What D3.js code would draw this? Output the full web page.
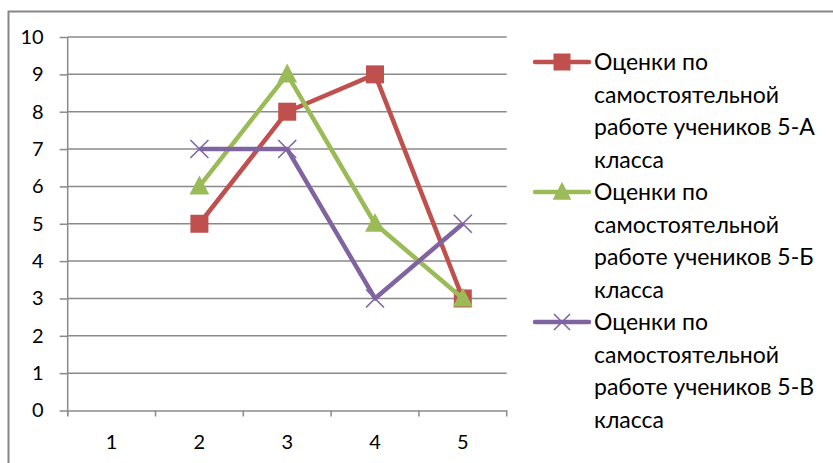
<!DOCTYPE html>
<html><head><meta charset="utf-8">
<script src="https://cdn.jsdelivr.net/npm/d3@7"></script>
<style>body{margin:0;background:#fff}svg{display:block}text{font-family:Lato,"Open Sans",sans-serif}</style>
</head><body>
<script>
const categories = ["1","2","3","4","5"];
const yTicks = [0,1,2,3,4,5,6,7,8,9,10];
const seriesNames = [
  ["Оценки по","самостоятельной","работе учеников 5-А","класса"],
  ["Оценки по","самостоятельной","работе учеников 5-Б","класса"],
  ["Оценки по","самостоятельной","работе учеников 5-В","класса"]
];
const valuesA = [null,5,8,9,3];
const valuesB = [null,6,9,5,3];
const valuesV = [null,7,7,3,5];
const colors = ["#C0504D","#9BBB59","#8064A2"];
const markers = ["square","triangle","x"];

const W=833,H=463;
const svg=d3.select("body").append("svg").attr("width",W).attr("height",H);
svg.append("rect").attr("x",8.5).attr("y",11.5).attr("width",W+20).attr("height",H+20)
  .attr("fill","none").attr("stroke","#868686").attr("stroke-width",2);

const x=d3.scaleBand().domain(categories).range([67.7,506.7]).padding(0);
const y=d3.scaleLinear().domain([0,10]).range([410.5,37]);
const grey="#8a8a8a";

const g=svg.append("g");
g.selectAll(".grid").data(yTicks.filter(d=>d>0)).enter().append("line")
  .attr("x1",x.range()[0]).attr("x2",x.range()[1])
  .attr("y1",d=>y(d)).attr("y2",d=>y(d)).attr("stroke",grey).attr("stroke-width",1.5);

const ya=svg.append("g").attr("transform",`translate(${x.range()[0]},0)`)
  .call(d3.axisLeft(y).tickValues(yTicks).tickSize(8).tickPadding(16).tickFormat(d3.format("d")));
ya.select(".domain").remove();
ya.append("line").attr("x1",0).attr("x2",0).attr("y1",y(10)).attr("y2",y(0)+5).attr("stroke",grey).attr("stroke-width",1.5);
ya.selectAll(".tick line").attr("stroke",grey).attr("stroke-width",1.5);
ya.selectAll(".tick text").attr("fill","#000").style("font-size","20px").style("font-family","Lato,'Open Sans',sans-serif");

const xa=svg.append("g").attr("transform",`translate(0,${y(0)})`)
  .call(d3.axisBottom(x).tickSize(0).tickPadding(24));
xa.select(".domain").attr("stroke",grey).attr("stroke-width",1.5);
xa.selectAll(".tick text").attr("fill","#000").style("font-size","20px").style("font-family","Lato,'Open Sans',sans-serif");
const bounds=[...categories.map(c=>x(c)), x.range()[1]];
xa.selectAll(".xt").data(bounds).enter().append("line")
  .attr("x1",d=>d).attr("x2",d=>d).attr("y1",0).attr("y2",6).attr("stroke",grey).attr("stroke-width",1.5);

const allSeries=[valuesA,valuesB,valuesV];
const cx=i=>x(categories[i])+x.bandwidth()/2;
const line=d3.line().defined(d=>d.v!=null).x(d=>cx(d.i)).y(d=>y(d.v));

function drawMarker(sel,type,color,px,py,s){
  if(type==="square"){
    sel.append("rect").attr("x",px-s/2).attr("y",py-s/2).attr("width",s).attr("height",s).attr("fill",color);
  } else if(type==="triangle"){
    const h=s*1.0;
    sel.append("path").attr("d",`M${px},${py-h*0.6}L${px+s*0.55},${py+h*0.45}L${px-s*0.55},${py+h*0.45}Z`).attr("fill",color);
  } else {
    const r=s/2;
    sel.append("path").attr("d",`M${px-r},${py-r}L${px+r},${py+r}M${px-r},${py+r}L${px+r},${py-r}`)
      .attr("stroke",color).attr("stroke-width",1.6).attr("fill","none");
  }
}

allSeries.forEach((vals,si)=>{
  const data=vals.map((v,i)=>({i,v}));
  svg.append("path").datum(data).attr("d",line).attr("fill","none")
    .attr("stroke",colors[si]).attr("stroke-width",4.5).attr("stroke-linejoin","round");
  const mg=svg.append("g");
  data.filter(d=>d.v!=null).forEach(d=>drawMarker(mg,markers[si],colors[si],cx(d.i),y(d.v),18));
});

const lg=svg.append("g");
seriesNames.forEach((lines,si)=>{
  const ly=62+si*130;
  lg.append("line").attr("x1",535).attr("x2",589).attr("y1",ly).attr("y2",ly)
    .attr("stroke",colors[si]).attr("stroke-width",4.5).attr("stroke-linecap","round");
  drawMarker(lg,markers[si],colors[si],562,ly,markers[si]==="x"?16:17);
  lines.forEach((t,li)=>{
    lg.append("text").attr("x",594).attr("y",ly+li*32.5).attr("dy","0.35em")
      .style("font-size","23px").attr("fill","#000").text(t);
  });
});
</script>
</body></html>
